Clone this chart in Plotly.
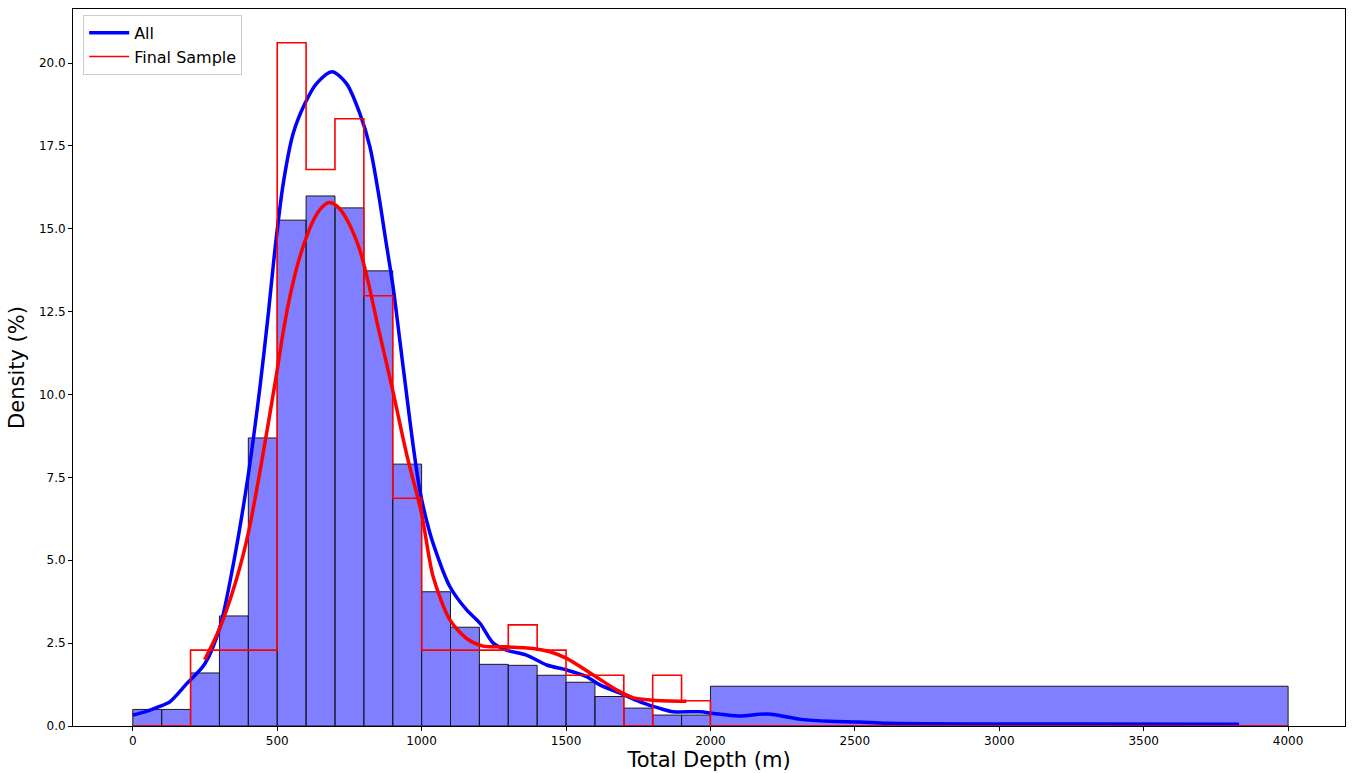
import plotly.graph_objects as go

# Histogram bins (m): left edges and widths
bin_left = [0, 100, 200, 300, 400, 500, 600, 700, 800, 900, 1000, 1100, 1200,
            1300, 1400, 1500, 1600, 1700, 1800, 1900, 2000]
bin_width = [100] * 20 + [2000]
bin_edges = bin_left + [4000]

# Density (%) of all wells per bin
all_density = [0.50, 0.50, 1.60, 3.32, 8.69, 15.26, 15.99, 15.63, 13.73, 7.90,
               4.05, 2.98, 1.86, 1.83, 1.53, 1.32, 0.89, 0.54, 0.33, 0.33, 1.20]

# Density (%) of the final sample per bin
final_density = [0.0, 0.0, 2.29, 2.29, 2.29, 20.61, 16.79, 18.32, 12.98, 6.87,
                 2.29, 2.29, 2.29, 3.05, 2.29, 1.53, 1.53, 0.0, 1.53, 0.76, 0.0]

# Kernel density estimate, all wells
kde_all_x = [0, 50, 93, 128, 186, 249, 301, 347, 399, 440, 470, 492, 521, 555,
             596, 636, 690, 740, 786, 821, 850, 875, 902, 925, 948, 970, 994,
             1020, 1040, 1098, 1156, 1202, 1248, 1294, 1363, 1433, 1502, 1571,
             1617, 1687, 1756, 1825, 1871, 1964, 2010, 2099, 2199, 2313, 2414,
             2514, 2613, 2944, 3276, 3830]
kde_all_y = [0.33, 0.45, 0.59, 0.73, 1.27, 1.87, 2.96, 4.83, 7.53, 10.2, 12.5,
             14.36, 16.37, 17.87, 18.78, 19.38, 19.74, 19.38, 18.48, 17.47,
             16.1, 14.7, 13.2, 11.6, 10.0, 8.5, 7.1, 6.1, 5.5, 4.2, 3.5, 3.1,
             2.5, 2.29, 2.14, 1.84, 1.69, 1.49, 1.24, 0.99, 0.73, 0.53, 0.43,
             0.43, 0.38, 0.30, 0.36, 0.20, 0.14, 0.12, 0.08, 0.06, 0.06, 0.05]

# Kernel density estimate, final sample
kde_final_x = [249, 301, 359, 399, 440, 498, 521, 544, 570, 598, 625, 650, 679,
               705, 728, 760, 786, 815, 844, 898, 948, 1000, 1040, 1098, 1156,
               1213, 1294, 1386, 1444, 1502, 1594, 1675, 1733, 1802, 1917]
kde_final_y = [2.0, 2.95, 4.43, 5.78, 7.66, 10.63, 11.9, 12.95, 13.9, 14.67,
               15.25, 15.6, 15.79, 15.7, 15.47, 14.95, 14.36, 13.4, 12.24,
               10.2, 8.2, 6.4, 4.5, 3.2, 2.64, 2.41, 2.39, 2.34, 2.24, 2.04,
               1.54, 1.09, 0.85, 0.78, 0.75]

x_ticks = [0, 500, 1000, 1500, 2000, 2500, 3000, 3500, 4000]
y_ticks = [0, 2.5, 5, 7.5, 10, 12.5, 15, 17.5, 20]

FONT = "DejaVu Sans"

fig = go.Figure()

# Filled histogram of all wells
fig.add_trace(go.Bar(
    x=bin_left, y=all_density, width=bin_width, offset=0,
    marker=dict(color="rgba(0,0,255,0.5)", line=dict(color="#1a1a1a", width=1)),
    showlegend=False, hoverinfo="skip",
))

# KDE of all wells
fig.add_trace(go.Scatter(
    x=kde_all_x, y=kde_all_y, mode="lines", name="All",
    line=dict(color="#0000ff", width=3.5, shape="spline", smoothing=0.8),
))

# Step outline of the final sample histogram
step_x = [bin_edges[0]] + bin_edges
step_y = [0] + final_density + [0]
fig.add_trace(go.Scatter(
    x=step_x, y=step_y, mode="lines", name="Final Sample",
    line=dict(color="#ff0000", width=1.6, shape="hv"),
))

# KDE of the final sample
fig.add_trace(go.Scatter(
    x=kde_final_x, y=kde_final_y, mode="lines", showlegend=False,
    line=dict(color="#ff0000", width=3.5, shape="spline", smoothing=0.8),
))

axis_common = dict(
    showgrid=False, zeroline=False, showline=True, mirror=True,
    linecolor="#000000", linewidth=1, ticks="outside", ticklen=4,
    tickcolor="#000000", tickfont=dict(family=FONT, size=12, color="#000000"),
)

fig.update_layout(
    width=1352, height=773,
    margin=dict(l=73, r=7, t=9, b=47),
    plot_bgcolor="white", paper_bgcolor="white",
    font=dict(family=FONT, color="#000000"),
    barmode="overlay",
    xaxis=dict(range=[-207, 4197], tickvals=x_ticks,
               title=dict(text="Total Depth (m)", font=dict(family=FONT, size=21), standoff=4),
               **axis_common),
    yaxis=dict(range=[0, 21.63], tickvals=y_ticks, tickformat=".1f",
               title=dict(text="Density (%)", font=dict(family=FONT, size=21), standoff=8),
               **axis_common),
    legend=dict(x=0.008, y=0.992, xanchor="left", yanchor="top",
                bgcolor="rgba(255,255,255,0.8)", bordercolor="#cccccc", borderwidth=1,
                font=dict(family=FONT, size=16), itemwidth=40),
)

fig.write_html("out.html")
